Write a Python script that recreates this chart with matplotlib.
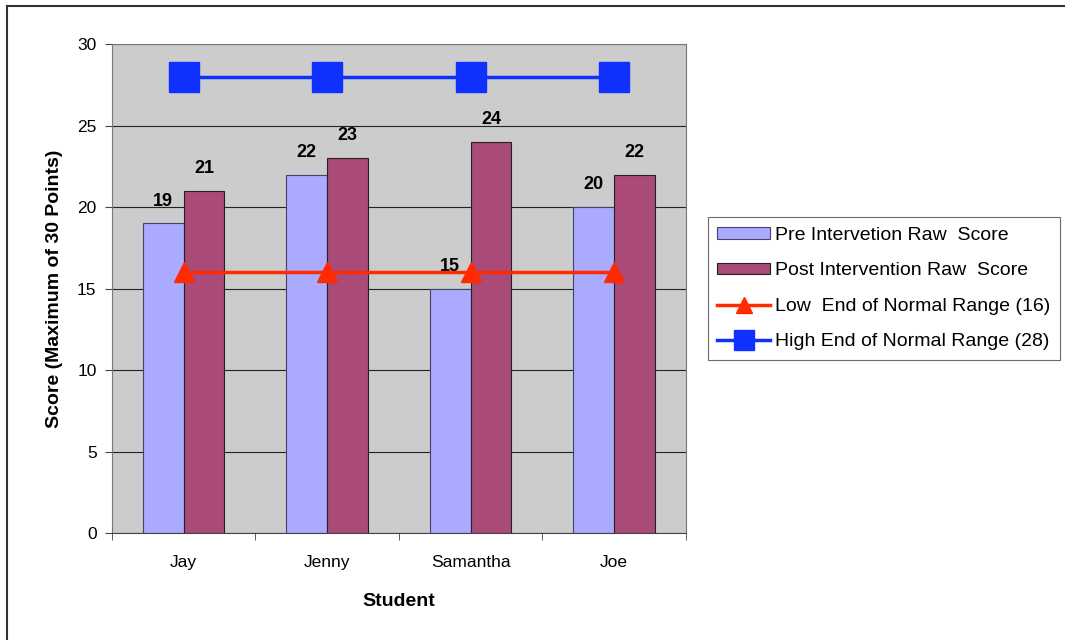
import numpy as np
import matplotlib.pyplot as plt
from matplotlib.lines import Line2D

plt.rcParams['font.family'] = ['Liberation Sans', 'DejaVu Sans']

students = ['Jay', 'Jenny', 'Samantha', 'Joe']
pre_scores = [19, 22, 15, 20]
post_scores = [21, 23, 24, 22]
low_normal = [16, 16, 16, 16]
high_normal = [28, 28, 28, 28]

fig = plt.figure(figsize=(10.65, 6.4), dpi=100)
ax = fig.add_axes([0.105, 0.167, 0.539, 0.764])
ax.set_facecolor('#CCCCCC')

x = np.arange(len(students))
w = 0.285

b1 = ax.bar(x - w/2, pre_scores, w, color='#AAAAFF', edgecolor='#444466', linewidth=0.8,
            label='Pre Intervetion Raw  Score', zorder=2)
b2 = ax.bar(x + w/2, post_scores, w, color='#AA4A78', edgecolor='#222222', linewidth=0.8,
            label='Post Intervention Raw  Score', zorder=2)

l1, = ax.plot(x, low_normal, color='#FF2A00', lw=2.5, marker='^', markersize=14,
              label='Low  End of Normal Range (16)', zorder=3)
l2, = ax.plot(x, high_normal, color='#1030FF', lw=2.5, marker='s', markersize=21,
              label='High End of Normal Range (28)', zorder=3)

# value labels above each bar
for bars in (b1, b2):
    for r in bars:
        h = r.get_height()
        ax.annotate(str(h), (r.get_x() + r.get_width()/2, h), xytext=(0, 10),
                    textcoords='offset points', ha='center', va='bottom',
                    fontsize=13, fontweight='bold', zorder=4)

ax.set_xlim(-0.5, 3.5)
ax.set_ylim(0, 30)
ax.set_yticks(range(0, 31, 5))
ax.yaxis.grid(True, color='#222222', lw=0.8, zorder=1)
ax.set_axisbelow(True)

ax.set_xticks(x)
ax.set_xticklabels(students, fontsize=12.5)
ax.set_xticks(np.arange(-0.5, 4, 1), minor=True)
ax.tick_params(axis='x', which='major', length=0, pad=16)
ax.tick_params(axis='x', which='minor', length=5, color='#444444')
ax.tick_params(axis='y', length=5, labelsize=12.5, color='#444444', pad=6)

for s in ax.spines.values():
    s.set_color('#777777')
ax.spines['bottom'].set_color('#444444')

ax.set_xlabel('Student', fontsize=14, fontweight='bold', labelpad=16)
ax.set_ylabel('Score (Maximum of 30 Points)', fontsize=14, fontweight='bold', labelpad=10)

leg = ax.legend(handles=[b1, b2, l1, l2], loc='center left', bbox_to_anchor=(1.038, 0.5),
                fontsize=14, frameon=True, fancybox=False, edgecolor='#444444',
                handlelength=2.7, handleheight=0.55, labelspacing=0.95,
                borderpad=0.5, handletextpad=0.25, borderaxespad=0)
leg.get_frame().set_linewidth(0.8)
leg.legend_handles[2].set_markersize(11)
leg.legend_handles[3].set_markersize(15)

# chart outline
fig.add_artist(Line2D([0.0066, 1.0], [0.991, 0.991], transform=fig.transFigure, color='#333333', lw=1.5))
fig.add_artist(Line2D([0.0066, 0.0066], [0.0, 0.991], transform=fig.transFigure, color='#333333', lw=1.5))

fig.savefig('out.png', dpi=100)
